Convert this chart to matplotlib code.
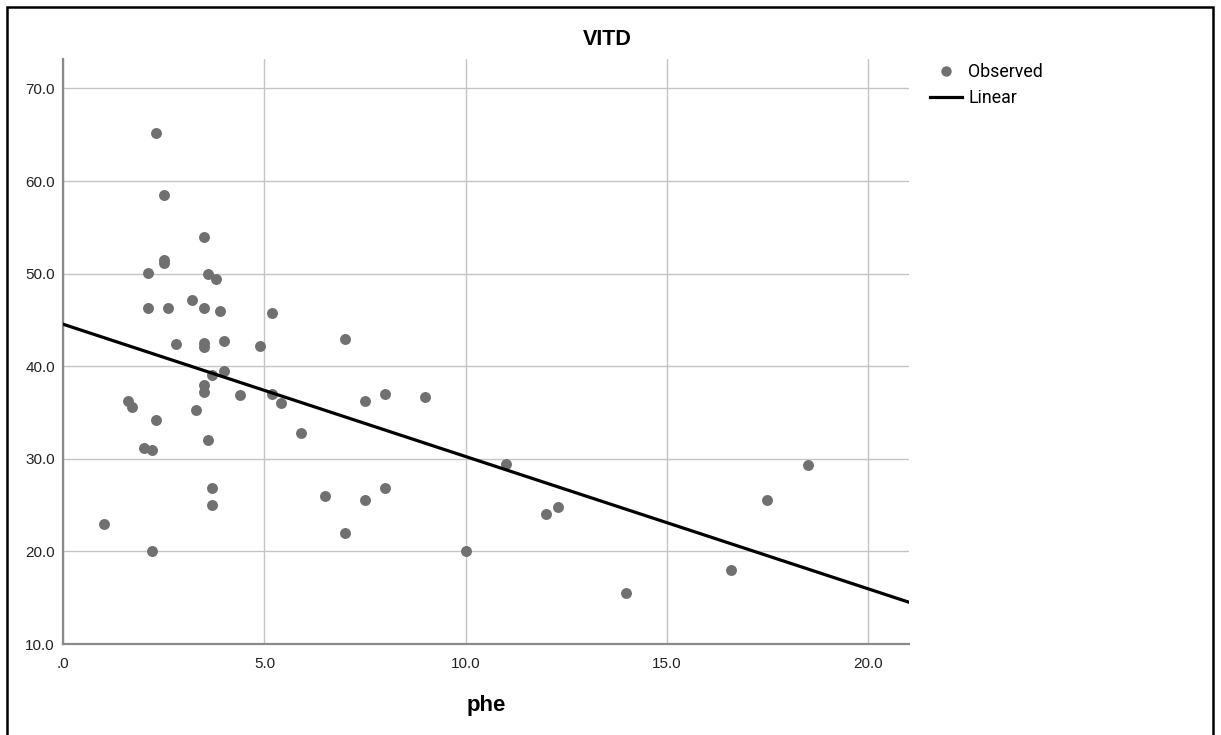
# -*- coding: utf-8 -*-

"""
Scatter of VITD against phe with a linear fit line.
"""

# %% Imports
import numpy as np
import matplotlib
matplotlib.use("Agg")
import matplotlib.pyplot as plt
from matplotlib.lines import Line2D
from matplotlib.patches import Rectangle

plt.rcParams["font.family"] = ["Liberation Sans", "DejaVu Sans"]

# %% Data
phe = [2.3, 2.5, 3.5, 2.5, 2.5, 2.1, 3.6, 3.8, 3.2, 2.1,
       2.6, 3.5, 3.9, 5.2, 2.8, 3.5, 3.5, 4.0, 4.9, 7.0,
       4.0, 3.7, 3.5, 3.5, 4.4, 5.2, 5.4, 1.6, 1.7, 3.3,
       2.3, 7.5, 8.0, 9.0, 5.9, 3.6, 2.0, 2.2, 11.0, 3.7,
       3.7, 6.5, 7.5, 8.0, 1.0, 7.0, 2.2, 10.0, 12.0, 12.3,
       14.0, 16.6, 17.5, 18.5]
vitd = [65.2, 58.5, 54.0, 51.5, 51.2, 50.1, 50.0, 49.4, 47.2, 46.3,
        46.3, 46.3, 46.0, 45.7, 42.4, 42.5, 42.1, 42.7, 42.2, 42.9,
        39.5, 39.0, 38.0, 37.2, 36.9, 37.0, 36.0, 36.2, 35.6, 35.3,
        34.2, 36.2, 37.0, 36.7, 32.8, 32.0, 31.2, 31.0, 29.4, 26.8,
        25.0, 26.0, 25.6, 26.9, 23.0, 22.0, 20.0, 20.0, 24.0, 24.8,
        15.5, 18.0, 25.6, 29.3]

# linear fit as shown in the chart
fit_intercept = 44.53
fit_slope = -1.428

x_ticks = [0, 5, 10, 15, 20]
x_tick_labels = [".0", "5.0", "10.0", "15.0", "20.0"]
y_ticks = [10, 20, 30, 40, 50, 60, 70]
y_tick_labels = ["10.0", "20.0", "30.0", "40.0", "50.0", "60.0", "70.0"]

# %% Figure
W, H = 1221, 735
fig = plt.figure(figsize=(W / 100, H / 100), dpi=100)
ax = fig.add_axes([63.3 / W, 1 - 644 / H, (909.3 - 63.3) / W, (644 - 59.3) / H])

x_min, x_max = 0, 21.03
y_min, y_max = 10, 73.15
ax.set_xlim(x_min, x_max)
ax.set_ylim(y_min, y_max)

ax.scatter(phe, vitd, s=62, color="#707070", linewidths=0, zorder=3)
xx = np.array([x_min, x_max])
ax.plot(xx, fit_intercept + fit_slope * xx, color="black", lw=2.3, zorder=4)

# grid and spines
ax.set_xticks(x_ticks)
ax.set_xticklabels(x_tick_labels)
ax.set_yticks(y_ticks)
ax.set_yticklabels(y_tick_labels)
ax.grid(True, color="#c4c4c4", lw=1.0, zorder=0)
ax.set_axisbelow(True)
for side in ["top", "right"]:
    ax.spines[side].set_visible(False)
for side in ["left", "bottom"]:
    ax.spines[side].set_color("#8a8a8a")
    ax.spines[side].set_linewidth(1.6)
ax.tick_params(axis="both", length=0, labelsize=11, labelcolor="#222222")
ax.tick_params(axis="x", pad=9)
ax.tick_params(axis="y", pad=6)

# labels
ax.set_xlabel("phe", fontsize=16, fontweight="bold")
ax.xaxis.set_label_coords(0.5, ((H - 706) / H - (1 - 644 / H)) / ((644 - 59.3) / H))
ax.xaxis.label.set_va("center")
fig.text(607.5 / W, 1 - 39.5 / H, "VITD", ha="center", va="center",
         fontsize=15.5, fontweight="bold")

# legend
handles = [Line2D([], [], ls="none", marker="o", ms=7.5, color="#707070", mew=0),
           Line2D([], [], color="black", lw=2.3)]
ax.legend(handles, ["Observed", "Linear"], loc="upper left",
          bbox_to_anchor=(930 / W, 1 - 63 / H), bbox_transform=fig.transFigure,
          frameon=False, borderpad=0, borderaxespad=0, handlelength=1.8,
          handletextpad=0.35, labelspacing=0.45,
          prop={"family": "Roboto", "size": 12.8})

# outer frame
fig.add_artist(Rectangle((6.5 / W, -0.02), (1213 - 6.5) / W, 1.02 - 7 / H,
                         transform=fig.transFigure, fill=False,
                         edgecolor="black", lw=1.8))

fig.savefig("out.png", dpi=100)
